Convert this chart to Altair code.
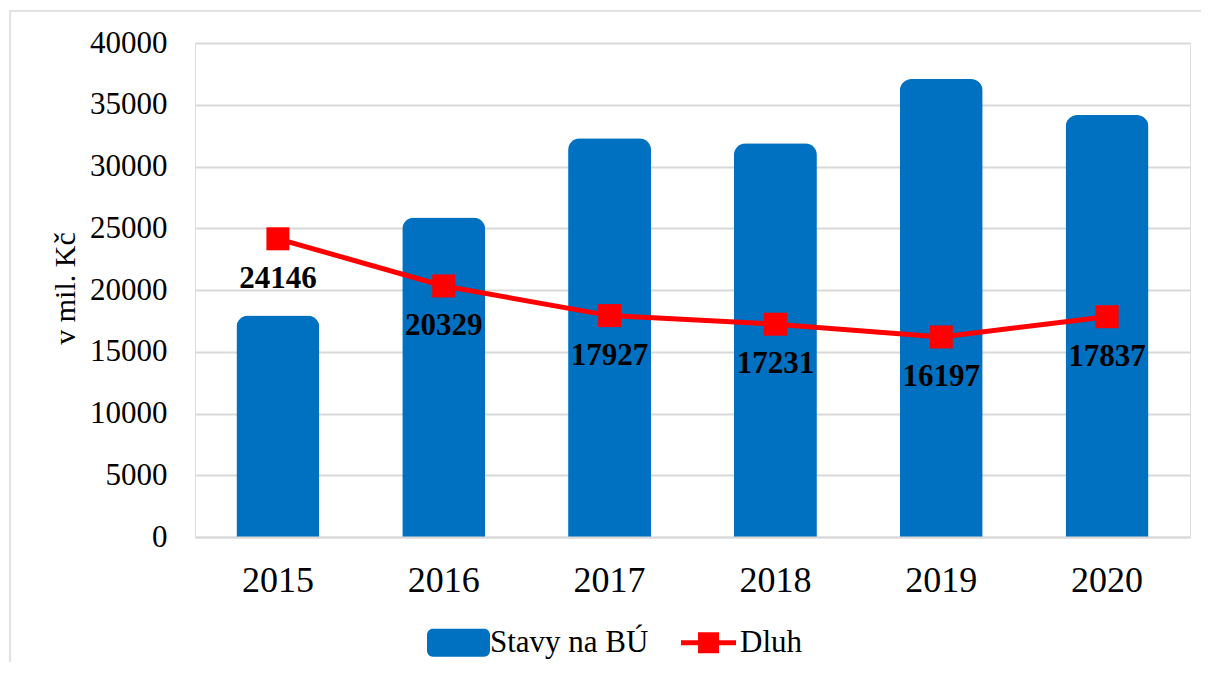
import altair as alt
import pandas as pd

years = ["2015", "2016", "2017", "2018", "2019", "2020"]
stavy = [17930, 25880, 32290, 31890, 37080, 34160]
dluh = [24146, 20329, 17927, 17231, 16197, 17837]
y_ticks = [0, 5000, 10000, 15000, 20000, 25000, 30000, 35000, 40000]
series_names = ["Stavy na BÚ", "Dluh"]

FONT = "Liberation Serif"
BLUE = "#0070C0"
RED = "#FF0000"
GRID = "#D9D9D9"

bar_df = pd.DataFrame({"year": years, "value": stavy})
line_df = pd.DataFrame({"year": years, "value": dluh})
leg_df = pd.DataFrame({
    "year": years + years,
    "value": stavy + dluh,
    "series": [series_names[0]] * len(years) + [series_names[1]] * len(years),
})

x_enc = alt.X(
    "year:N",
    sort=years,
    scale=alt.Scale(paddingInner=0, paddingOuter=0),
    axis=alt.Axis(
        title=None, labelAngle=0, labelFont=FONT, labelFontSize=36,
        labelColor="black", labelPadding=26, ticks=False,
        domain=True, domainColor=GRID, domainWidth=2, zindex=1, grid=False,
    ),
)
y_enc = alt.Y(
    "value:Q",
    scale=alt.Scale(domain=[0, 40000], nice=False),
    axis=alt.Axis(
        title="v mil. Kč", values=y_ticks, format="d",
        labelFont=FONT, labelFontSize=31, labelColor="black", labelPadding=28,
        ticks=False, domain=False, grid=True, gridColor=GRID, gridWidth=2,
        titleFont=FONT, titleFontSize=30, titleFontWeight="normal",
        titleColor="black", titleAngle=270, titleBaseline="alphabetic",
        titleAlign="center", titleX=-121, titleY=245,
    ),
)

border = alt.Chart(pd.DataFrame({"a": [0]})).mark_rect(
    fill="transparent", stroke=GRID, strokeWidth=1.5
).encode(
    x=alt.value(-185), x2=alt.value(1400), y=alt.value(-32), y2=alt.value(900)
)

bars = alt.Chart(bar_df).mark_bar(
    color=BLUE, size=83, cornerRadiusTopLeft=12, cornerRadiusTopRight=12
).encode(x=x_enc, y=y_enc)

line = alt.Chart(line_df).mark_line(color=RED, strokeWidth=5).encode(
    x=alt.X("year:N", sort=years), y="value:Q"
)
points = alt.Chart(line_df).mark_point(
    shape="square", filled=True, size=529, color=RED, opacity=1
).encode(x=alt.X("year:N", sort=years), y="value:Q")
labels = alt.Chart(line_df).mark_text(
    font=FONT, fontSize=31, fontWeight="bold", color="black",
    baseline="middle", align="center", dy=40
).encode(x=alt.X("year:N", sort=years), y="value:Q", text=alt.Text("value:Q", format="d"))

rect_path = ("M-0.81,-0.444 L0.81,-0.444 A0.19,0.19 0 0 1 1,-0.254 L1,0.254 "
             "A0.19,0.19 0 0 1 0.81,0.444 L-0.81,0.444 A0.19,0.19 0 0 1 -1,0.254 "
             "L-1,-0.254 A0.19,0.19 0 0 1 -0.81,-0.444 Z")
line_path = ("M-0.873,-0.08 L0.873,-0.08 L0.873,0.08 L-0.873,0.08 Z "
             "M-0.333,-0.333 L0.333,-0.333 L0.333,0.333 L-0.333,0.333 Z")

legend_layer = alt.Chart(leg_df).mark_point(filled=True, opacity=0).encode(
    x=alt.X("year:N", sort=years),
    y="value:Q",
    color=alt.Color(
        "series:N",
        scale=alt.Scale(domain=series_names, range=[BLUE, RED]),
        legend=alt.Legend(
            title=None, orient="none", direction="horizontal",
            legendX=232, legendY=568, padding=0,
            symbolSize=3969, symbolOpacity=1, symbolStrokeWidth=0,
            labelFont=FONT, labelFontSize=31, labelColor="black",
            labelOffset=0, columnPadding=28,
        ),
    ),
    shape=alt.Shape(
        "series:N",
        scale=alt.Scale(domain=series_names, range=[rect_path, line_path]),
        legend=alt.Legend(
            title=None, orient="none", direction="horizontal",
            legendX=232, legendY=568, padding=0,
            symbolSize=3969, symbolOpacity=1, symbolStrokeWidth=0,
            labelFont=FONT, labelFontSize=31, labelColor="black",
            labelOffset=0, columnPadding=28,
        ),
    ),
)

chart = alt.layer(border, bars, line, points, labels, legend_layer).properties(
    width=995,
    height=494,
    autosize=alt.AutoSizeParams(type="none"),
    padding={"left": 187, "top": 35, "right": 11, "bottom": 125},
).configure_view(stroke=None).configure(background="white")

chart.save("out.html", embed_options={"renderer": "svg", "actions": False})
